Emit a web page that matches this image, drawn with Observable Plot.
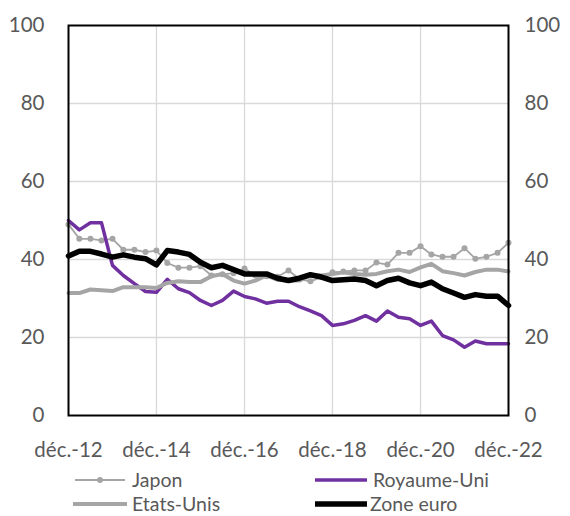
<!DOCTYPE html>
<html>
<head>
<meta charset="utf-8">
<script src="https://cdn.jsdelivr.net/npm/d3@7"></script>
<script src="https://cdn.jsdelivr.net/npm/@observablehq/plot@0.6"></script>
<style>
  html, body { margin: 0; padding: 0; background: white; }
  #legend { position: relative; width: 570px; height: 48px; font-family: Lato, "Open Sans", sans-serif; font-size: 19.5px; color: #595959; }
  #legend .item { position: absolute; height: 24px; line-height: 23px; white-space: nowrap; }
  #legend svg { position: absolute; top: 0; }
  #legend span { position: absolute; top: 0px; }
</style>
</head>
<body>
<div id="chart"></div>
<div id="legend"></div>
<script>
// Quarterly observations, déc.-12 … déc.-22
const nQuarters = 41;
const japon = [49.0, 45.3, 45.3, 44.9, 45.3, 42.5, 42.5, 41.9, 42.3, 39.1, 37.9, 37.9, 38.3, 35.9, 36.2, 36.5, 37.7, 35.9, 35.7, 35.6, 37.2, 35.0, 34.4, 35.5, 36.7, 36.9, 37.2, 37.2, 39.2, 38.7, 41.7, 41.7, 43.4, 41.3, 40.7, 40.7, 42.9, 40.2, 40.7, 41.7, 44.3];
const royaumeUni = [50.0, 47.6, 49.4, 49.4, 38.5, 35.9, 33.8, 31.8, 31.6, 34.9, 32.5, 31.5, 29.5, 28.2, 29.5, 31.9, 30.5, 29.9, 28.8, 29.3, 29.3, 27.9, 26.8, 25.6, 23.1, 23.5, 24.4, 25.6, 24.2, 26.8, 25.2, 24.8, 23.1, 24.2, 20.5, 19.4, 17.5, 19.1, 18.4, 18.4, 18.4];
const etatsUnis = [31.4, 31.4, 32.3, 32.1, 31.9, 32.9, 32.9, 32.9, 32.7, 34.0, 34.4, 34.2, 34.2, 35.7, 36.3, 34.6, 33.8, 34.6, 35.9, 34.8, 34.6, 34.6, 35.9, 35.9, 36.3, 36.7, 36.3, 36.1, 36.3, 37.0, 37.4, 36.8, 38.0, 38.9, 37.0, 36.5, 35.9, 36.8, 37.4, 37.4, 36.9];
const zoneEuro = [40.9, 42.1, 42.1, 41.4, 40.6, 41.2, 40.6, 40.2, 38.6, 42.3, 41.9, 41.3, 39.3, 37.9, 38.5, 37.4, 36.3, 36.3, 36.3, 35.2, 34.6, 35.2, 36.1, 35.5, 34.6, 34.8, 35.0, 34.6, 33.3, 34.6, 35.2, 34.0, 33.3, 34.2, 32.5, 31.4, 30.3, 31.0, 30.6, 30.6, 28.2];
const tickYears = [2012, 2014, 2016, 2018, 2020, 2022];
const yTicks = [0, 20, 40, 60, 80, 100];

const start = new Date(Date.UTC(2012, 11, 1));
const dates = d3.range(nQuarters).map(i => d3.utcMonth.offset(start, 3 * i));
const xTicks = tickYears.map(y => new Date(Date.UTC(y, 11, 1)));
const fmt = d => "déc.-" + String(d.getUTCFullYear()).slice(2);

const rows = (vals) => vals.map((v, i) => ({date: dates[i], value: v}));
const dJ = rows(japon), dR = rows(royaumeUni), dE = rows(etatsUnis), dZ = rows(zoneEuro);

const chart = Plot.plot({
  width: 570,
  height: 468,
  marginLeft: 68,
  marginRight: 62,
  marginTop: 25,
  marginBottom: 53,
  style: {fontFamily: "Lato, 'Open Sans', sans-serif", fontSize: "20.5px", color: "#595959", background: "white"},
  x: {type: "utc", domain: [xTicks[0], xTicks[xTicks.length - 1]], label: null},
  y: {domain: [0, 100], label: null},
  marks: [
    Plot.gridY({ticks: [20, 40, 60, 80], stroke: "#d9d9d9", strokeOpacity: 1, strokeWidth: 1.3}),
    Plot.gridX({ticks: xTicks.slice(1, -1), stroke: "#d9d9d9", strokeOpacity: 1, strokeWidth: 1.3}),
    Plot.axisY({anchor: "left", ticks: yTicks, tickSize: 0, tickPadding: 24, label: null}),
    Plot.axisY({anchor: "right", ticks: yTicks, tickSize: 0, tickPadding: 16, label: null}),
    Plot.axisX({ticks: xTicks, tickFormat: fmt, tickSize: 0, tickPadding: 27, label: null}),
    Plot.line(dJ, {x: "date", y: "value", stroke: "#a5a5a5", strokeWidth: 1.8}),
    Plot.dot(dJ, {x: "date", y: "value", r: 3, fill: "#a5a5a5"}),
    Plot.line(dR, {x: "date", y: "value", stroke: "#7030a0", strokeWidth: 3.5}),
    Plot.line(dE, {x: "date", y: "value", stroke: "#a5a5a5", strokeWidth: 4}),
    Plot.line(dZ, {x: "date", y: "value", stroke: "#000000", strokeWidth: 5.5}),
    Plot.frame({stroke: "black", strokeWidth: 2})
  ]
});
document.getElementById("chart").appendChild(chart);

// Legend
const legendItems = [
  {name: "Japon", color: "#a5a5a5", width: 1.8, dot: true, x1: 75, x2: 125, tx: 132, row: 0},
  {name: "Royaume-Uni", color: "#7030a0", width: 3.5, dot: false, x1: 315, x2: 367, tx: 373, row: 0},
  {name: "Etats-Unis", color: "#a5a5a5", width: 4, dot: false, x1: 73, x2: 127, tx: 132, row: 1},
  {name: "Zone euro", color: "#000000", width: 5.5, dot: false, x1: 315, x2: 367, tx: 370, row: 1}
];
const legend = document.getElementById("legend");
legendItems.forEach(it => {
  const div = document.createElement("div");
  div.className = "item";
  div.style.left = "0px";
  div.style.top = (it.row * 24) + "px";
  div.style.width = "570px";
  const ns = "http://www.w3.org/2000/svg";
  const s = document.createElementNS(ns, "svg");
  s.setAttribute("width", 570);
  s.setAttribute("height", 24);
  const ln = document.createElementNS(ns, "line");
  ln.setAttribute("x1", it.x1); ln.setAttribute("x2", it.x2);
  ln.setAttribute("y1", 12); ln.setAttribute("y2", 12);
  ln.setAttribute("stroke", it.color);
  ln.setAttribute("stroke-width", it.width);
  s.appendChild(ln);
  if (it.dot) {
    const c = document.createElementNS(ns, "circle");
    c.setAttribute("cx", (it.x1 + it.x2) / 2); c.setAttribute("cy", 12);
    c.setAttribute("r", 3); c.setAttribute("fill", it.color);
    s.appendChild(c);
  }
  div.appendChild(s);
  const sp = document.createElement("span");
  sp.textContent = it.name;
  sp.style.left = it.tx + "px";
  div.appendChild(sp);
  legend.appendChild(div);
});
</script>
</body>
</html>
